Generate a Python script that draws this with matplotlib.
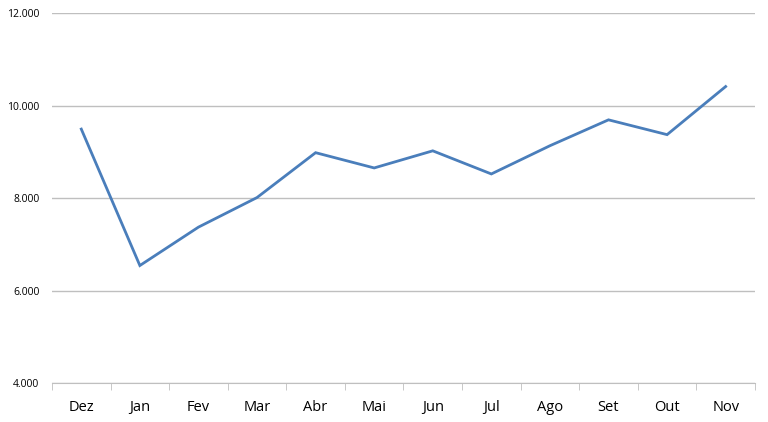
import matplotlib
matplotlib.use("Agg")
import matplotlib.pyplot as plt
from matplotlib.ticker import FuncFormatter, FixedLocator

months = ["Dez", "Jan", "Fev", "Mar", "Abr", "Mai", "Jun", "Jul", "Ago", "Set", "Out", "Nov"]
values = [9490, 6540, 7370, 8010, 8980, 8650, 9020, 8520, 9130, 9690, 9370, 10410]
y_ticks = [4000, 6000, 8000, 10000, 12000]

plt.rcParams["font.family"] = ["Open Sans", "DejaVu Sans"]

fig = plt.figure(figsize=(7.68, 4.22), dpi=100)
ax = fig.add_axes([0.0677, 0.0924, 0.9153, 0.8768])

x = range(len(months))
ax.plot(x, values, color="#4A7EBB", linewidth=2.0, solid_joinstyle="miter")

ax.set_xlim(-0.5, len(months) - 0.5)
ax.set_ylim(y_ticks[0], y_ticks[-1])
ax.set_yticks(y_ticks)
ax.yaxis.set_major_formatter(FuncFormatter(lambda v, _: f"{int(v):,}".replace(",", ".")))
ax.grid(axis="y", color="#BFBFBF", linewidth=1)
ax.set_axisbelow(True)

ax.set_xticks(list(x))
ax.set_xticklabels(months, fontsize=10.5)
ax.xaxis.set_minor_locator(FixedLocator([i - 0.5 for i in range(len(months) + 1)]))
ax.tick_params(axis="x", which="major", length=0, pad=12)
ax.tick_params(axis="x", which="minor", length=5, color="#BFBFBF", direction="out")
ax.tick_params(axis="y", length=0, labelsize=7.5, pad=9)

for side in ("top", "right", "left"):
    ax.spines[side].set_visible(False)
ax.spines["bottom"].set_color("#BFBFBF")

fig.savefig("out.png", dpi=100)
